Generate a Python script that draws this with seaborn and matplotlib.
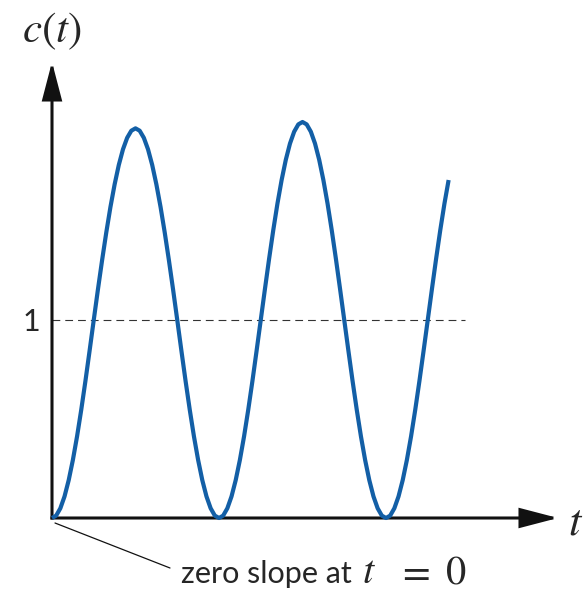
import matplotlib
matplotlib.use("Agg")
import matplotlib.pyplot as plt
import seaborn as sns
import pandas as pd

# Step response of an undamped second-order system, sampled every 0.025 s
t = [0.000, 0.025, 0.050, 0.075, 0.100, 0.125, 0.150, 0.175, 0.200, 0.225,
     0.250, 0.275, 0.300, 0.325, 0.350, 0.375, 0.400, 0.425, 0.450, 0.475,
     0.500, 0.525, 0.550, 0.575, 0.600, 0.625, 0.650, 0.675, 0.700, 0.725,
     0.750, 0.775, 0.800, 0.825, 0.850, 0.875, 0.900, 0.925, 0.950, 0.975,
     1.000, 1.025, 1.050, 1.075, 1.100, 1.125, 1.150, 1.175, 1.200, 1.225,
     1.250, 1.275, 1.300, 1.325, 1.350, 1.375, 1.400, 1.425, 1.450, 1.475,
     1.500, 1.525, 1.550, 1.575, 1.600, 1.625, 1.650, 1.675, 1.700, 1.725,
     1.750, 1.775, 1.800, 1.825, 1.850, 1.875, 1.900, 1.925, 1.950, 1.975,
     2.000, 2.025, 2.050, 2.075, 2.100, 2.125, 2.150, 2.175, 2.200, 2.225,
     2.250, 2.275, 2.300, 2.325, 2.350, 2.375]
c = [0.000, 0.012, 0.049, 0.109, 0.191, 0.293, 0.412, 0.546, 0.691, 0.844,
     1.000, 1.154, 1.302, 1.442, 1.571, 1.685, 1.783, 1.862, 1.920, 1.956,
     1.968, 1.956, 1.920, 1.862, 1.783, 1.685, 1.571, 1.442, 1.302, 1.154,
     1.000, 0.844, 0.691, 0.546, 0.412, 0.293, 0.191, 0.109, 0.049, 0.012,
     0.000, 0.012, 0.049, 0.109, 0.191, 0.293, 0.412, 0.546, 0.691, 0.844,
     1.000, 1.156, 1.309, 1.454, 1.588, 1.707, 1.809, 1.891, 1.951, 1.988,
     2.000, 1.988, 1.951, 1.891, 1.809, 1.707, 1.588, 1.454, 1.309, 1.156,
     1.000, 0.844, 0.691, 0.546, 0.412, 0.293, 0.191, 0.109, 0.049, 0.012,
     0.000, 0.012, 0.049, 0.109, 0.191, 0.293, 0.412, 0.546, 0.691, 0.844,
     1.000, 1.156, 1.309, 1.454, 1.588, 1.707]

steady_state = 1.0
y_label = "$c(t)$"
x_label = "$t$"
level_label = "1"
note_words = "zero slope at"
note_math = ["$t$", "$=$", "$0$"]

sns.set_style("white")
plt.rcParams["font.family"] = ["Lato", "DejaVu Sans"]
plt.rcParams["mathtext.fontset"] = "stix"

W, H = 588, 592
fig = plt.figure(figsize=(W / 100, H / 100), dpi=100)
ax = fig.add_axes([0, 0, 1, 1])

# pixel scale of the drawing: 167 px per second, 198 px per unit of c
ox, oy, sx, sy = 52, 518, 167.0, 198.0
ax.set_xlim(-ox / sx, (W - ox) / sx)
ax.set_ylim(-(H - oy) / sy, oy / sy)
ax.axis("off")


def px(x, y):
    """Figure-pixel position (origin top-left) to figure fraction."""
    return (x / W, 1 - y / H)


df = pd.DataFrame({"t": t, "c": c})

# dashed steady-state level
ax.plot([0, (465 - ox) / sx], [steady_state, steady_state], color="#333333",
        lw=0.8, dashes=(7, 4.5), zorder=1)

# response curve
sns.lineplot(data=df, x="t", y="c", ax=ax, color="#135fa6", lw=3.0,
             solid_capstyle="butt", zorder=3)

# axes with arrowheads
arrow = dict(arrowstyle="-|>,head_length=23,head_width=6", mutation_scale=1,
             color="#111111", lw=2.2, shrinkA=0, shrinkB=0,
             joinstyle="miter", capstyle="projecting")
ax.annotate("", xy=((558 - ox) / sx, 0), xytext=(0, 0), arrowprops=arrow, zorder=2)
ax.annotate("", xy=(0, (oy - 62) / sy), xytext=(0, 0), arrowprops=arrow, zorder=2)

# labels
fig.text(*px(52, 31), y_label, fontsize=31, ha="center", va="center")
fig.text(*px(568, 522), x_label, fontsize=32, ha="left", va="center")
fig.text(*px(31, 322), level_label, fontsize=22, ha="center", va="center")

# leader line from the origin to the note
fig.add_artist(plt.Line2D([55 / W, 170 / W], [1 - 523 / H, 1 - 568 / H],
                          color="#111111", lw=0.9))
fig.text(*px(181, 583), note_words, fontsize=22, ha="left", va="baseline")
for s, x0 in zip(note_math, [362, 397, 445]):
    fig.text(*px(x0, 583), s, fontsize=29, ha="left", va="baseline")

fig.savefig("out.png", dpi=100)
